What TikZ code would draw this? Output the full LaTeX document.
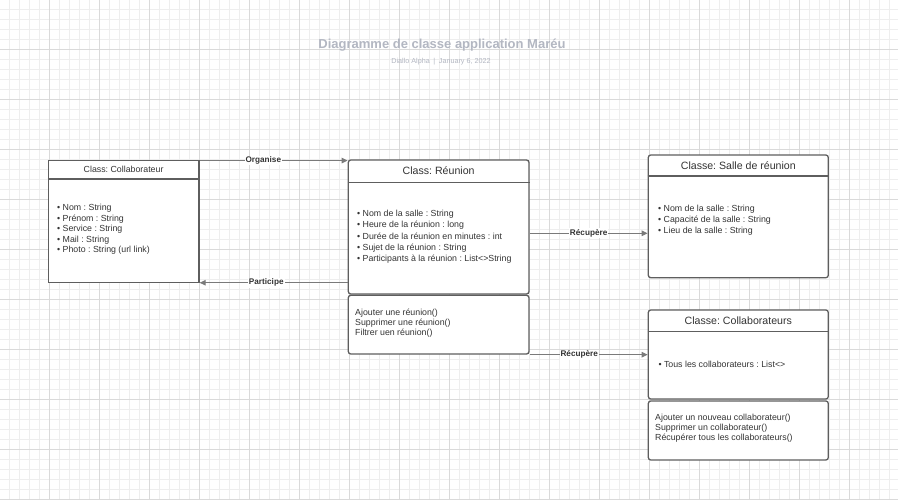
\documentclass[tikz,border=0pt]{standalone}
\usepackage{fontspec}
\setmainfont{Liberation Sans}
\usetikzlibrary{arrows.meta}
\frenchspacing
\definecolor{gridminor}{HTML}{EEEEEE}
\definecolor{gridmajor}{HTML}{DADADA}
\definecolor{boxline}{HTML}{5E5E5E}
\definecolor{connline}{HTML}{7A7A7A}
\definecolor{txt}{HTML}{333333}
\definecolor{titlecol}{HTML}{B3B7C2}
\tikzset{
  umlbox/.style={draw=boxline, line width=1.3pt, fill=white, inner sep=0pt},
  roundbox/.style={umlbox, rounded corners=2.5pt},
  hdr/.style={text=txt, font=\fontsize{10.6}{12}\selectfont, inner sep=0pt},
  hdrsmall/.style={text=txt, font=\fontsize{8.8}{10}\selectfont, inner sep=0pt},
  attr/.style={text=txt, anchor=west, align=left, inner sep=0pt},
  conn/.style={draw=connline, line width=1pt, -{Triangle[length=6pt,width=5.5pt]}},
  lbl/.style={fill=white, text=txt, font=\bfseries\fontsize{8.2}{9}\selectfont, inner sep=1pt}
}
\begin{document}
\begin{tikzpicture}[x=1pt,y=-1pt]
\useasboundingbox (0,0) rectangle (898,499);
\fill[white] (0,0) rectangle (898,499);
% grid
\foreach \i in {0,...,89} {
  \draw[gridminor, line width=0.8pt] (9.5+10*\i,0) -- (9.5+10*\i,499);
}
\foreach \i in {0,...,49} {
  \draw[gridminor, line width=0.8pt] (0,9.5+10*\i) -- (898,9.5+10*\i);
}
\foreach \i in {0,...,17} {
  \draw[gridmajor, line width=0.8pt] (49.5+50*\i,0) -- (49.5+50*\i,499);
}
\foreach \i in {0,...,9} {
  \draw[gridmajor, line width=0.8pt] (0,49.5+50*\i) -- (898,49.5+50*\i);
}

% title
\node[font=\bfseries\fontsize{13}{15}\selectfont, text=titlecol, inner sep=0pt] (title) at (442,45) {Diagramme de classe application Maréu};
\node[font=\fontsize{7.2}{9}\selectfont, text=titlecol, inner sep=0pt] (sub) at (441,61.5) {Diallo Alpha\enspace|\enspace January 6, 2022};

% Collaborateur (left)
\node[umlbox, minimum width=150.7pt, minimum height=122pt] (colab) at (123.65,221.7) {};
\draw[boxline, line width=1.3pt] (colab.west |- 0,179) -- (colab.east |- 0,179);
\node[hdrsmall] (colabT) at (123.6,169.8) {Class: Collaborateur};
\node[attr, font=\fontsize{8.8}{10.6}\selectfont] (colabA) at (57,229.5) {%
\textbullet{} Nom : String\\
\textbullet{} Prénom : String\\
\textbullet{} Service : String\\
\textbullet{} Mail : String\\
\textbullet{} Photo : String (url link)};

% Réunion (center)
\node[roundbox, minimum width=180.7pt, minimum height=134pt] (reunion) at (438.65,227) {};
\draw[boxline, line width=1.3pt] (reunion.west |- 0,182.3) -- (reunion.east |- 0,182.3);
\node[hdr] (reunionT) at (438.65,170.6) {Class: Réunion};
\node[attr, font=\fontsize{8.8}{11.1}\selectfont] (reunionA) at (357,236.8) {%
\textbullet{} Nom de la salle : String\\
\textbullet{} Heure de la réunion : long\\
\textbullet{} Durée de la réunion en minutes : int\\
\textbullet{} Sujet de la réunion : String\\
\textbullet{} Participants à la réunion : List<>String};
\node[roundbox, minimum width=180.7pt, minimum height=58.7pt] (reunionM) at (438.65,324.65) {};
\node[attr, font=\fontsize{8.8}{10}\selectfont] (reunionMT) at (355,322.7) {%
Ajouter une réunion()\\
Supprimer une réunion()\\
Filtrer uen réunion()};

% Salle de réunion (top right)
\node[roundbox, minimum width=180pt, minimum height=122.7pt] (salle) at (738.3,216.35) {};
\draw[boxline, line width=1.3pt] (salle.west |- 0,176) -- (salle.east |- 0,176);
\node[hdr] (salleT) at (738.3,165.4) {Classe: Salle de réunion};
\node[attr, font=\fontsize{8.8}{11.1}\selectfont] (salleA) at (658,220.1) {%
\textbullet{} Nom de la salle : String\\
\textbullet{} Capacité de la salle : String\\
\textbullet{} Lieu de la salle : String};

% Collaborateurs (bottom right)
\node[roundbox, minimum width=180pt, minimum height=89pt] (collabs) at (738.3,354.5) {};
\draw[boxline, line width=1.3pt] (collabs.west |- 0,331.7) -- (collabs.east |- 0,331.7);
\node[hdr] (collabsT) at (738.3,320.5) {Classe: Collaborateurs};
\node[attr, font=\fontsize{8.8}{10}\selectfont] (collabsA) at (658.3,364.3) {%
\textbullet{} Tous les collaborateurs : List<>};
\node[roundbox, minimum width=180pt, minimum height=59pt] (collabsM) at (738.3,430.5) {};
\node[attr, font=\fontsize{8.8}{9.8}\selectfont] (collabsMT) at (655,428) {%
Ajouter un nouveau collaborateur()\\
Supprimer un collaborateur()\\
Récupérer tous les collaborateurs()};

% connectors
\coordinate (r1) at (0,233.3);
\draw[conn] ([yshift=-0.5pt]colab.north east) -- ([yshift=-0.5pt]colab.north east -| reunion.west)
  node[lbl, pos=0.43] {Organise};
\draw[conn] ([yshift=0.6pt]colab.south east -| reunion.west) -- ([yshift=0.6pt]colab.south east)
  node[lbl, pos=0.55] {Participe};
\draw[conn] (reunion.east |- r1) -- (salle.west |- r1)
  node[lbl, pos=0.5] {Récupère};
\draw[conn] (reunionM.south east) -- (reunionM.south east -| collabs.west)
  node[lbl, pos=0.42] {Récupère};
\end{tikzpicture}
\end{document}
